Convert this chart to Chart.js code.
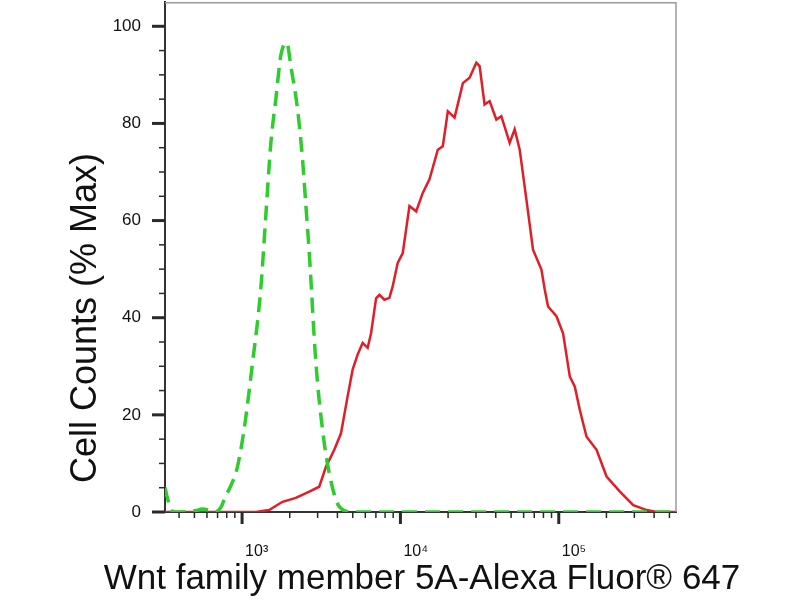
<!DOCTYPE html>
<html><head><meta charset="utf-8">
<script src="https://cdn.jsdelivr.net/npm/chart.js@4.4.1/dist/chart.umd.min.js"></script>
<style>html,body{margin:0;padding:0;background:#fff;}#wrap{width:800px;height:600px;position:relative;}</style>
</head><body><div id="wrap"><canvas id="c"></canvas></div>
<script>
const xAxisTitle = 'Wnt family member 5A-Alexa Fluor\u00AE 647';
const yAxisTitle = 'Cell Counts (% Max)';
const xTickValues = [1000, 10000, 100000];
const xTickLabels = ['10\u00B3', '10\u2074', '10\u2075'];
const xMinorTickValues = [400,500,600,700,800,900,2000,3000,4000,5000,6000,7000,8000,9000,20000,30000,40000,50000,60000,70000,80000,90000,200000,300000,400000,500000];
const yTickValues = [0, 20, 40, 60, 80, 100];
const yMinorTickValues = [5,10,15,25,30,35,45,50,55,65,70,75,85,90,95];

// Isotype control (green dashed)
const controlX = [326, 340, 356, 376, 512, 559, 618, 674, 736, 780, 852, 930, 1030, 1157, 1313, 1412, 1520, 1634, 1757, 1918, 2032, 2239, 2409, 2530, 2656, 2926, 3223, 3553, 4111, 4966, 550000];
const controlY = [5, 2.5, 0.5, 0, 0.3, 0.6, 0.4, 0, 1, 3, 5.5, 9, 17, 30, 46, 61, 76, 85, 94, 96.6, 91.8, 83, 72.6, 63, 53.4, 30.7, 16.9, 8, 1.1, 0, 0];

// Sample (red solid)
const sampleX = [326, 1221, 1482, 1799, 2187, 2656, 3071, 3386, 3822, 4214, 4640, 4991, 5367, 5773, 6209, 6525, 7020, 7365, 7919, 8520, 8941, 9614, 10342, 11402, 12573, 13840, 15259, 17223, 18521, 19927, 21974, 24796, 27340, 30144, 31623, 34007, 36583, 40339, 43384, 48973, 52664, 56660, 62473, 68771, 77716, 81543, 85560, 96691, 106460, 117380, 126280, 135830, 149760, 173230, 200390, 243330, 295340, 359130, 415370, 550000];
const sampleY = [0, 0, 0.4, 2.1, 2.9, 4.2, 5.2, 9.3, 12.8, 16.2, 23.8, 29.3, 32.4, 34.8, 33.8, 36.8, 44, 44.7, 43.7, 44.1, 46.5, 51.3, 53.3, 63, 61.9, 65.7, 68.5, 74.6, 75.3, 82.5, 81.2, 88.3, 89.4, 92.5, 91.8, 83.9, 84.6, 80.8, 81.5, 76, 78.8, 74.6, 64.3, 54, 49.9, 45.8, 42.3, 40.3, 36.8, 27.9, 25.8, 21, 15.5, 12.8, 7.3, 4.2, 1.4, 0.4, 0, 0];

const FAMILY = '"Liberation Sans", Arial, "DejaVu Sans", sans-serif';

const framePlugin = {
  id: 'frame',
  beforeDraw(chart) {
    const ys = chart.scales.y;
    if (ys && !ys._titlePatched) {
      const orig = ys.drawTitle;
      ys.drawTitle = function () {
        const ctx = this.ctx;
        ctx.save();
        ctx.translate(0, 61);
        orig.call(this);
        ctx.restore();
      };
      ys._titlePatched = true;
    }
    const xs = chart.scales.x;
    if (xs && !xs._titlePatched) {
      const origX = xs.drawTitle;
      xs.drawTitle = function () {
        const l = this.left, r = this.right;
        this.left = l - 90; this.right = r + 93;
        origX.call(this);
        this.left = l; this.right = r;
      };
      xs._titlePatched = true;
    }
  },
  afterDraw(chart) {
    const {ctx, chartArea: a, scales: {x, y}} = chart;
    ctx.save();
    ctx.strokeStyle = '#9a9a9a';
    ctx.lineWidth = 1.5;
    ctx.beginPath();
    ctx.moveTo(a.left, a.top + 0.75);
    ctx.lineTo(a.right, a.top + 0.75);
    ctx.lineTo(a.right, a.bottom);
    ctx.stroke();
    ctx.strokeStyle = '#2a2a2a';
    const tick = (x1, y1, x2, y2, w) => {
      ctx.lineWidth = w; ctx.beginPath(); ctx.moveTo(x1, y1); ctx.lineTo(x2, y2); ctx.stroke();
    };
    yTickValues.forEach(v => { const p = y.getPixelForValue(v); tick(a.left - 13, p, a.left, p, 3); });
    yMinorTickValues.forEach(v => { const p = y.getPixelForValue(v); tick(a.left - 6, p, a.left, p, 1.5); });
    xTickValues.forEach(v => { const p = x.getPixelForValue(v); tick(p, a.bottom, p, a.bottom + 12, 3); });
    xMinorTickValues.forEach(v => { const p = x.getPixelForValue(v); tick(p, a.bottom, p, a.bottom + 6, 1.5); });
    ctx.restore();
  }
};

new Chart(document.getElementById('c'), {
  type: 'line',
  data: {
    datasets: [
      {
        label: 'Isotype control',
        data: controlX.map((v, i) => ({x: v, y: controlY[i]})),
        borderColor: 'rgb(45,205,45)',
        borderWidth: 3.5,
        borderDash: [15, 8],
        pointRadius: 0,
        fill: false,
        cubicInterpolationMode: 'monotone'
      },
      {
        label: 'Wnt5A',
        data: sampleX.map((v, i) => ({x: v, y: sampleY[i]})),
        borderColor: 'rgb(225,30,40)',
        borderWidth: 2.5,
        pointRadius: 0,
        fill: false,
        tension: 0
      }
    ]
  },
  options: {
    responsive: true,
    maintainAspectRatio: false,
    animation: false,
    layout: {padding: {left: 0, right: 124, top: 2, bottom: 0}},
    plugins: {legend: {display: false}, tooltip: {enabled: false}},
    scales: {
      x: {
        type: 'logarithmic',
        min: 326,
        max: 550000,
        afterBuildTicks: s => { s.ticks = xTickValues.map(v => ({value: v})); },
        afterFit: s => { s.height = 88; s.paddingLeft = 0; s.paddingRight = 0; },
        ticks: {
          autoSkip: false, maxRotation: 0, minRotation: 0, align: 'start', labelOffset: 3,
          padding: 30, color: '#111', font: {size: 16, family: FAMILY},
          callback: v => xTickLabels[xTickValues.indexOf(v)]
        },
        grid: {display: true, drawOnChartArea: false, drawTicks: false},
        border: {display: true, color: '#333', width: 2},
        title: {display: true, text: xAxisTitle, color: '#111', font: {size: 35, family: FAMILY}, padding: {top: 0, bottom: 0}}
      },
      y: {
        min: 0,
        max: 105,
        afterBuildTicks: s => { s.ticks = yTickValues.map(v => ({value: v})); },
        afterFit: s => { s.width = 165; s.paddingTop = 0; s.paddingBottom = 0; },
        ticks: {padding: 24, color: '#111', font: {size: 17, family: FAMILY}},
        grid: {display: true, drawOnChartArea: false, drawTicks: false},
        border: {display: true, color: '#333', width: 2},
        title: {display: true, text: yAxisTitle, color: '#111', font: {size: 36, family: FAMILY}, padding: {top: 64, bottom: 0}}
      }
    }
  },
  plugins: [framePlugin]
});
</script>
</body></html>
